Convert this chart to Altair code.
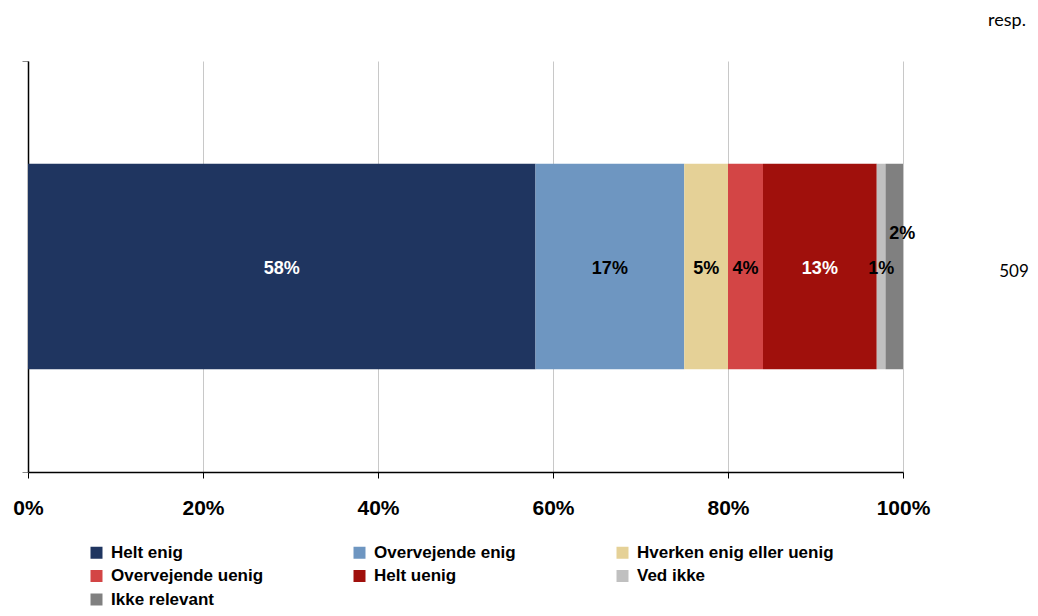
import altair as alt
import pandas as pd

categories = ["Helt enig", "Overvejende enig", "Hverken enig eller uenig",
              "Overvejende uenig", "Helt uenig", "Ved ikke", "Ikke relevant"]
values = [58, 17, 5, 4, 13, 1, 2]
colors = ["#1F3560", "#6E96C1", "#E5D197", "#D34545", "#A0100C", "#C0C0C0", "#808080"]
question = "Q1"
n_resp = 509
x_ticks = [0, 20, 40, 60, 80, 100]

df = pd.DataFrame({
    "q": [question] * len(categories),
    "cat": categories,
    "value": values,
    "order": list(range(len(categories))),
})
resp_df = pd.DataFrame({"q": [question], "n": [n_resp]})

FONT = "Liberation Sans"

base = (
    alt.Chart(df)
    .transform_stack(stack="value", groupby=["q"], as_=["x0", "x1"],
                     sort=[alt.SortField("order", "ascending")])
    .transform_calculate(mid="(datum.x0 + datum.x1) / 2",
                         label="datum.value + '%'")
)

x_scale = alt.Scale(domain=[0, 100], nice=False, zero=True)
y_scale = alt.Scale(paddingInner=0, paddingOuter=0)

bars = base.mark_bar(height=alt.RelativeBandSize(0.5)).encode(
    x=alt.X("x0:Q", scale=x_scale,
            axis=alt.Axis(values=x_ticks, labelExpr="datum.value + '%'", title=None,
                          domainColor="black", domainWidth=1.5, tickColor="black",
                          tickSize=6, grid=True, gridColor="#C8C8C8", gridWidth=1,
                          labelFont=FONT, labelFontSize=21, labelFontWeight="bold",
                          labelColor="black", labelPadding=19, labelFlush=False)),
    x2="x1:Q",
    y=alt.Y("q:N", scale=y_scale,
            axis=alt.Axis(title=None, labels=False, domainColor="black", domainWidth=1.5,
                          ticks=True, tickBand="extent", tickColor="#888888", tickSize=6,
                          grid=False)),
    color=alt.Color("cat:N", scale=alt.Scale(domain=categories, range=colors),
                    legend=alt.Legend(title=None, orient="none", legendX=60, legendY=483,
                                      direction="horizontal",
                                      columns=3, gridAlign="all", columnPadding=43,
                                      rowPadding=5.5, symbolType="square", symbolSize=144,
                                      symbolStrokeWidth=0, labelFont=FONT,
                                      labelFontSize=17, labelFontWeight="bold",
                                      labelColor="black", labelOffset=6, labelLimit=400,
                                      padding=0)),
)

white_cats = ["Helt enig", "Helt uenig"]
text_color = (alt.when(alt.FieldOneOfPredicate(field="cat", oneOf=white_cats))
              .then(alt.value("white")).otherwise(alt.value("black")))

labels = base.transform_filter(alt.datum.cat != "Ikke relevant").mark_text(
    font=FONT, fontSize=18, fontWeight="bold", baseline="middle", dy=2
).encode(x=alt.X("mid:Q", scale=x_scale), y=alt.Y("q:N", scale=y_scale),
         text="label:N", color=text_color)

last_label = base.transform_filter(alt.datum.cat == "Ikke relevant").mark_text(
    font=FONT, fontSize=18, fontWeight="bold", baseline="middle", dx=8, dy=-33,
    color="black"
).encode(x=alt.X("mid:Q", scale=x_scale), y=alt.Y("q:N", scale=y_scale),
         text="label:N")

resp_n = alt.Chart(resp_df).mark_text(
    font="Lato", fontSize=17, color="black", baseline="middle", align="center", dy=5
).encode(x=alt.value(986), y=alt.Y("q:N", scale=y_scale), text="n:Q")

resp_title = alt.Chart(resp_df).mark_text(
    font="Lato", fontSize=18, color="black", baseline="middle", align="center"
).encode(x=alt.value(979), y=alt.value(-40), text=alt.value("resp."))

chart = (
    alt.layer(bars, labels, last_label, resp_n, resp_title)
    .properties(width=875, height=411,
                autosize=alt.AutoSizeParams(type="none"),
                padding={"left": 20, "top": 53, "right": 127, "bottom": 136})
    .configure_view(stroke=None)
)

chart.save("out.html", embed_options={"renderer": "svg", "actions": False})
